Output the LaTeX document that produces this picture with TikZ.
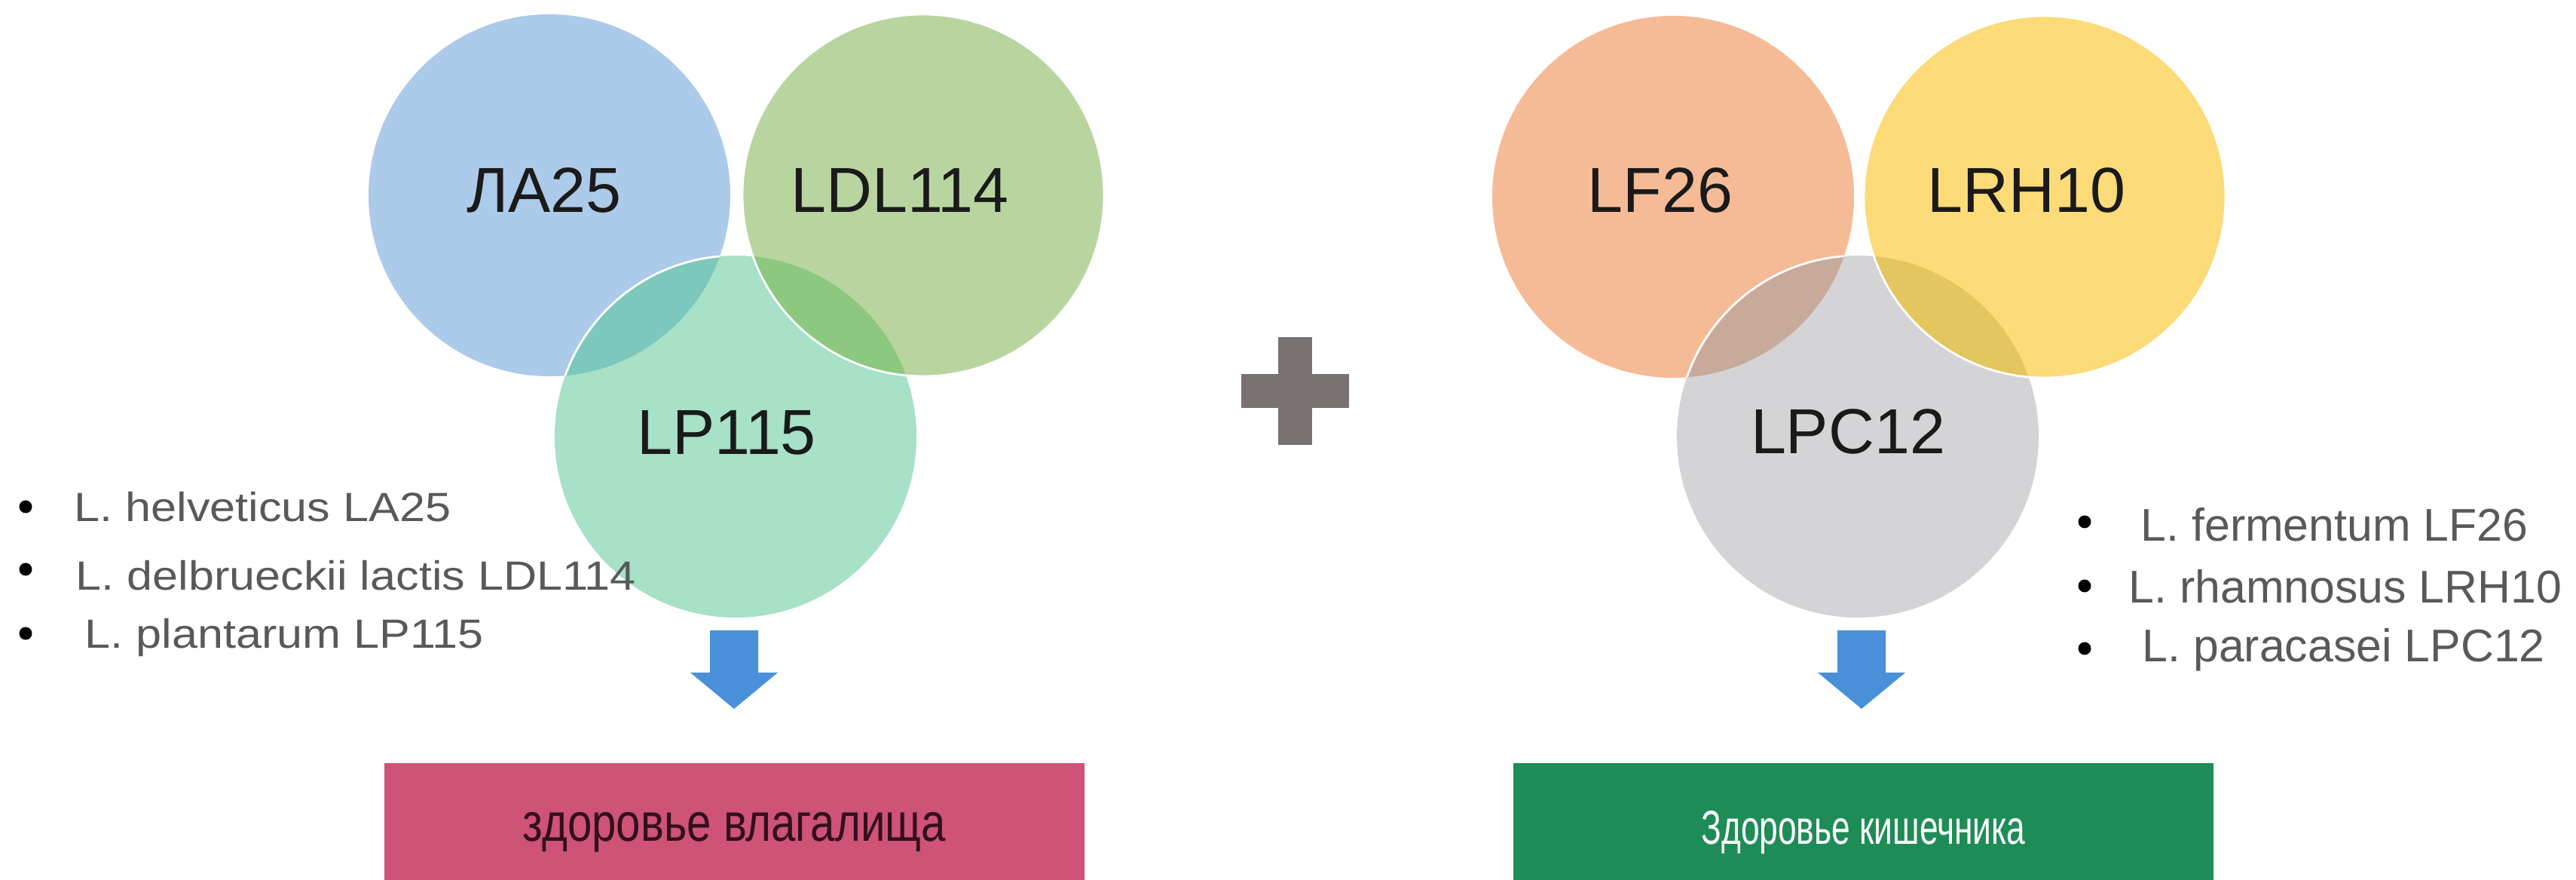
\documentclass[tikz,border=0pt]{standalone}
\usepackage{fontspec}
\setmainfont{Liberation Sans}
\newfontfamily\narrowfont[FakeStretch=0.82]{Liberation Sans}
\newfontfamily\slimfont[FakeStretch=0.70]{Liberation Sans}
\newfontfamily\widefont[FakeStretch=1.13]{Liberation Sans}
\usepackage{tikz}

\definecolor{laBlue}{RGB}{172,202,233}
\definecolor{ldlGreen}{RGB}{184,213,160}
\definecolor{lpTeal}{RGB}{166,225,200}
\definecolor{lensTeal}{RGB}{124,200,188}
\definecolor{lensGreen}{RGB}{140,200,126}
\definecolor{lfOrange}{RGB}{245,187,150}
\definecolor{lrhYellow}{RGB}{252,219,120}
\definecolor{lpcGrey}{RGB}{212,212,214}
\definecolor{lensBrown}{RGB}{200,170,155}
\definecolor{lensGold}{RGB}{228,198,95}
\definecolor{plusGrey}{RGB}{120,114,114}
\definecolor{arrowBlue}{RGB}{74,144,217}
\definecolor{vagPink}{RGB}{207,82,119}
\definecolor{gutGreen}{RGB}{30,140,86}
\definecolor{listGrey}{RGB}{89,89,89}
\definecolor{inkDark}{RGB}{26,26,26}
\definecolor{inkMaroon}{RGB}{48,16,28}

\begin{document}
\begin{tikzpicture}[
    strain/.style={inner sep=0mm,text=inkDark,font=\fontsize{24}{28}\selectfont},
    dot/.style={circle,fill=black,inner sep=0mm,minimum size=1.7mm},
    leftitem/.style={anchor=base west,inner sep=0mm,text=listGrey,font=\widefont\fontsize{15.4}{18}\selectfont},
    rightitem/.style={anchor=base west,inner sep=0mm,text=listGrey,font=\fontsize{17.3}{20}\selectfont},
    result/.style={inner sep=0mm,minimum width=9.29cm,minimum height=1.84cm},
    rim/.style={draw=white,line width=0.8pt},
  ]
    \useasboundingbox (0,0) rectangle (34.18,11.66);

    %left circles
    \coordinate (la) at (7.29,9.07);
    \coordinate (ldl) at (12.25,9.07);
    \coordinate (lp) at (9.76,5.87);
    \fill[laBlue] (la) circle (2.4);
    \fill[lpTeal] (lp) circle (2.4);
    \fill[ldlGreen] (ldl) circle (2.4);
    \begin{scope}
        \clip (la) circle (2.4);
        \fill[lensTeal] (lp) circle (2.4);
        \draw[rim] (lp) circle (2.4);
    \end{scope}
    \begin{scope}
        \clip (ldl) circle (2.4);
        \fill[lensGreen] (lp) circle (2.4);
    \end{scope}
    \draw[rim] (ldl) circle (2.4);

    %right circles
    \coordinate (lf) at (22.20,9.05);
    \coordinate (lrh) at (27.13,9.05);
    \coordinate (lpc) at (24.65,5.87);
    \fill[lfOrange] (lf) circle (2.4);
    \fill[lpcGrey] (lpc) circle (2.4);
    \fill[lrhYellow] (lrh) circle (2.4);
    \begin{scope}
        \clip (lf) circle (2.4);
        \fill[lensBrown] (lpc) circle (2.4);
        \draw[rim] (lpc) circle (2.4);
    \end{scope}
    \begin{scope}
        \clip (lrh) circle (2.4);
        \fill[lensGold] (lpc) circle (2.4);
    \end{scope}
    \draw[rim] (lrh) circle (2.4);

    %labels
    \node[strain] (laText) at (7.22,9.14) {ЛА25};
    \node[strain] (ldlText) at (11.94,9.14) {LDL114};
    \node[strain] (lpText) at (9.64,5.92) {LP115};
    \node[strain] (lfText) at (22.03,9.14) {LF26};
    \node[strain] (lrhText) at (26.89,9.14) {LRH10};
    \node[strain] (lpcText) at (24.52,5.94) {LPC12};

    %plus
    \fill[plusGrey] (16.47,6.245) rectangle (17.90,6.695);
    \fill[plusGrey] (16.96,5.76) rectangle (17.41,7.19);

    %left list
    \node[dot] (dotA) at (0.34,4.94) {};
    \node[dot] (dotB) at (0.34,4.11) {};
    \node[dot] (dotC) at (0.34,3.26) {};
    \node[leftitem] (itemA) at (0.98,4.74) {L. helveticus LA25};
    \node[leftitem] (itemB) at (1.00,3.83) {L. delbrueckii lactis LDL114};
    \node[leftitem] (itemC) at (1.12,3.06) {L. plantarum LP115};

    %right list
    \node[dot] (dotD) at (27.66,4.74) {};
    \node[dot] (dotE) at (27.66,3.89) {};
    \node[dot] (dotF) at (27.66,3.06) {};
    \node[rightitem] (itemD) at (28.40,4.48) {L. fermentum LF26};
    \node[rightitem] (itemE) at (28.24,3.66) {L. rhamnosus LRH10};
    \node[rightitem] (itemF) at (28.42,2.89) {L. paracasei LPC12};

    %arrows
    \fill[arrowBlue] (9.42,3.30) -- (10.06,3.30) -- (10.06,2.74) -- (10.32,2.74)
        -- (9.74,2.26) -- (9.16,2.74) -- (9.42,2.74) -- cycle;
    \fill[arrowBlue] (24.38,3.30) -- (25.02,3.30) -- (25.02,2.74) -- (25.28,2.74)
        -- (24.70,2.26) -- (24.12,2.74) -- (24.38,2.74) -- cycle;

    %results
    \node[result,fill=vagPink,text=inkMaroon,font=\narrowfont\fontsize{20.2}{24}\selectfont] (vag) at (9.745,0.62) {здоровье влагалища};
    \node[result,fill=gutGreen,text=white,font=\slimfont\fontsize{18}{22}\selectfont] (gut) at (24.725,0.62) {Здоровье кишечника};
\end{tikzpicture}
\end{document}
